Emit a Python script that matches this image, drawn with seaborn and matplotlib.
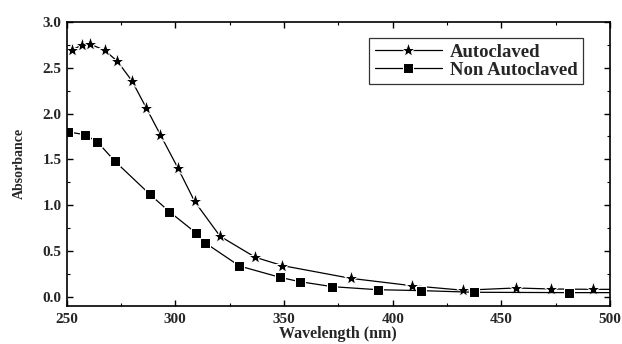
import matplotlib
matplotlib.use('Agg')
import matplotlib.pyplot as plt
import pandas as pd
import seaborn as sns
from matplotlib.ticker import MultipleLocator

# absorbance spectra
wl_auto = [252.3, 257.0, 260.7, 267.6, 273.4, 280.0, 286.7, 293.1, 301.1, 308.9,
           320.6, 336.8, 349.1, 380.7, 408.7, 432.4, 456.6, 472.7, 492.2, 500.0]
abs_auto = [2.69, 2.75, 2.76, 2.69, 2.57, 2.36, 2.06, 1.77, 1.41, 1.04,
            0.66, 0.43, 0.34, 0.20, 0.12, 0.07, 0.095, 0.084, 0.080, 0.080]
wl_non = [250.5, 258.4, 264.2, 272.2, 288.2, 297.2, 309.3, 313.6, 329.5, 348.3,
          357.2, 372.3, 393.1, 413.0, 437.2, 480.9, 500.0]
abs_non = [1.80, 1.77, 1.69, 1.48, 1.12, 0.93, 0.70, 0.59, 0.335, 0.21,
           0.164, 0.109, 0.076, 0.066, 0.048, 0.044, 0.044]

sns.set_theme(style='ticks')
plt.rcParams['font.family'] = ['Liberation Serif', 'DejaVu Serif']
plt.rcParams['font.weight'] = 'bold'

auto = pd.DataFrame({'wl': wl_auto, 'A': abs_auto})
non = pd.DataFrame({'wl': wl_non, 'A': abs_non})

fig = plt.figure(figsize=(6.22, 3.44), dpi=100)
ax = fig.add_axes([0.107, 0.111, 0.874, 0.825])

sns.lineplot(data=auto, x='wl', y='A', ax=ax, color='black', lw=0.9,
             marker='*', markersize=11, markevery=list(range(len(wl_auto) - 1)),
             label='Autoclaved')
sns.lineplot(data=non, x='wl', y='A', ax=ax, color='black', lw=0.9,
             marker='s', markersize=7, markevery=list(range(len(wl_non) - 1)),
             label='Non Autoclaved')

ax.set_xlim(250, 500)
ax.set_ylim(-0.1, 3.0)
ax.xaxis.set_major_locator(MultipleLocator(50))
ax.xaxis.set_minor_locator(MultipleLocator(25))
ax.yaxis.set_major_locator(MultipleLocator(0.5))
ax.yaxis.set_minor_locator(MultipleLocator(0.25))
ax.yaxis.set_major_formatter(matplotlib.ticker.FormatStrFormatter('%.1f'))
ax.tick_params(which='both', direction='in', top=True, right=True,
               labelsize=11, color='black')
ax.tick_params(which='major', length=4, width=1)
ax.tick_params(which='minor', length=2.5, width=0.8)
ax.tick_params(axis='x', pad=5)
for lab in ax.get_xticklabels() + ax.get_yticklabels():
    lab.set_fontweight('bold')
for sp in ax.spines.values():
    sp.set_linewidth(1.2)
    sp.set_color('black')

ax.set_xlabel('Wavelength (nm)', fontsize=11.5, fontweight='bold', labelpad=0)
ax.set_ylabel('Absorbance', fontsize=10, fontweight='bold', labelpad=12)

leg = ax.legend(loc='upper right', bbox_to_anchor=(0.95, 0.944),
                borderaxespad=0, frameon=True, fancybox=False,
                edgecolor='black', handlelength=3.6, borderpad=0.3,
                labelspacing=0.05, handletextpad=0.4,
                prop={'weight': 'bold', 'size': 13.5})
leg.get_frame().set_linewidth(0.9)

fig.savefig('out.png', dpi=100)
